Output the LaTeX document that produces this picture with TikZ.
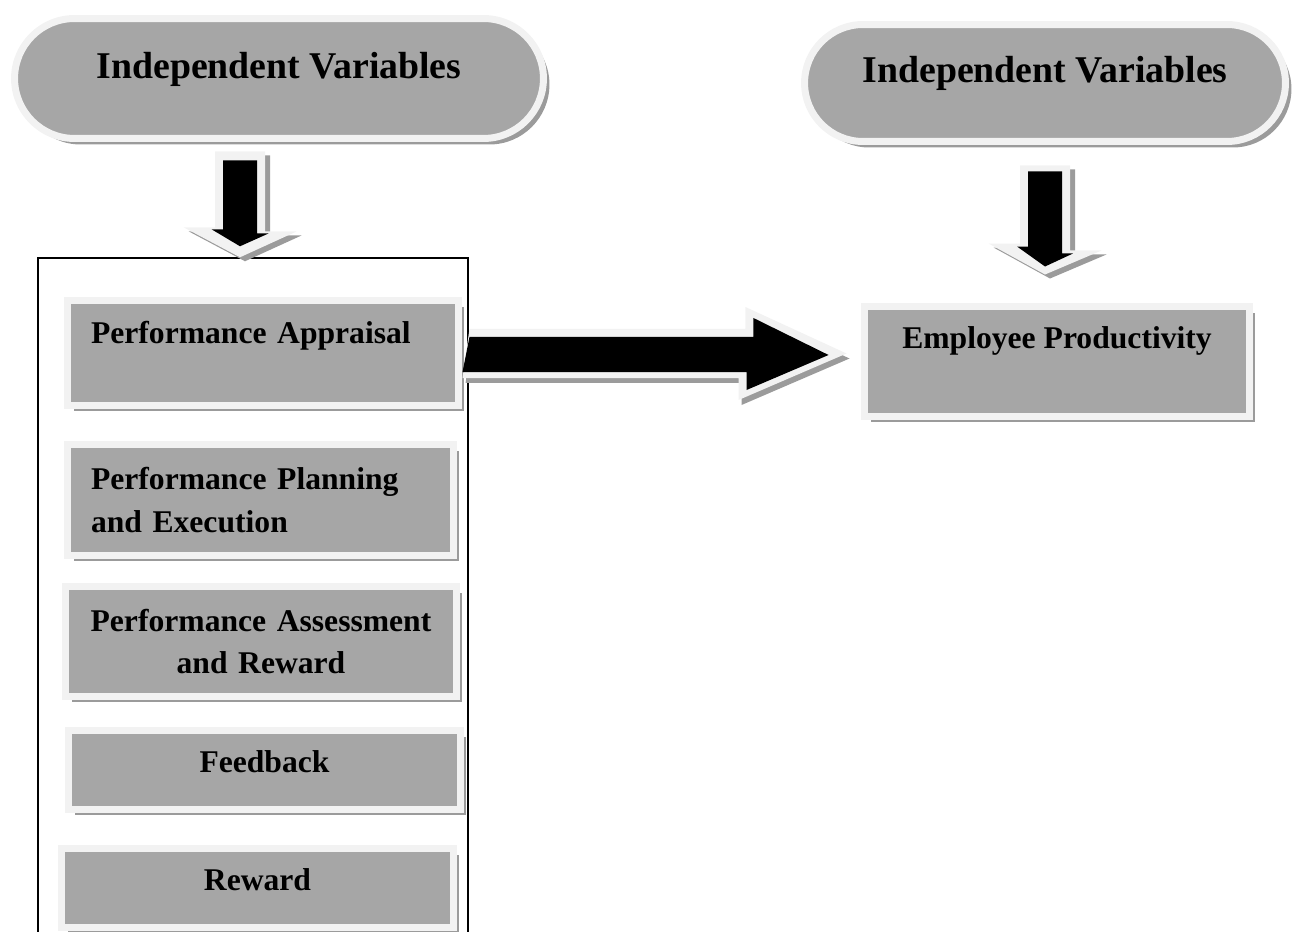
\documentclass[tikz,border=0pt]{standalone}
\usepackage{fontspec}
\setmainfont{Liberation Serif}
\usetikzlibrary{calc,shapes.misc,shadows}
\definecolor{boxgray}{HTML}{A6A6A6}
\definecolor{rimgray}{HTML}{F2F2F2}
\definecolor{shadegray}{HTML}{9B9B9B}
\tikzset{
  varbox/.style={draw=rimgray,line width=0.14cm,fill=boxgray,inner sep=0pt,
    font=\fontsize{18}{24}\selectfont\bfseries,
    drop shadow={shadow xshift=0.12cm,shadow yshift=-0.12cm,fill=shadegray,opacity=1}},
  pill/.style={varbox,rounded rectangle,font=\fontsize{21.5}{26}\selectfont\bfseries,
    text height=15pt,text depth=15pt},
  oneline/.style={text height=13pt,text depth=#1},
  oneline/.default=10pt,
  framebox/.style={draw=black,line width=0.9pt,inner sep=0pt},
  rimarrow/.style={fill=rimgray},
  inkarrow/.style={fill=black},
  shadearrow/.style={fill=shadegray},
}
\begin{document}
\begin{tikzpicture}[x=0.02cm,y=-0.02cm]
  \useasboundingbox (0,0) rectangle (1294,932);
  % headers
  \node[pill,minimum width=10.58cm,minimum height=2.40cm] (lpill) at (279,78.5) {Independent Variables};
  \node[pill,minimum width=9.62cm,minimum height=2.34cm] (rpill) at (1045,83) {Independent Variables};
  % frame round the dimensions
  \node[framebox,minimum width=8.60cm,minimum height=13.74cm] (frame) at (253,601.5) {};
  % dimensions
  \node[varbox,oneline=24pt,align=left,text width=6.88cm,minimum width=7.82cm,minimum height=2.10cm]
    (appr) at (263,353) {Performance Appraisal};
  \node[varbox,align=left,text width=6.78cm,minimum width=7.72cm,minimum height=2.22cm]
    (plan) at (260.5,500) {Performance Planning\\and Execution};
  \node[varbox,align=center,text width=6.88cm,minimum width=7.82cm,minimum height=2.20cm]
    (assess) at (261,641.5) {Performance Assessment\\and Reward};
  \node[varbox,oneline,minimum width=7.84cm,minimum height=1.58cm] (feed) at (264.5,770) {Feedback};
  \node[varbox,oneline,minimum width=7.84cm,minimum height=1.58cm] (reward) at (257.5,888) {Reward};
  % outcome
  \node[varbox,oneline=28pt,minimum width=7.70cm,minimum height=2.20cm] (prod) at (1057,361.5) {Employee Productivity};
  % down arrow, left
  \coordinate (lt) at ($(lpill.south)+(-39,9.5)$);
  \coordinate (lb) at (lt |- frame.north);
  \fill[shadearrow,transform canvas={xshift=0.1cm,yshift=-0.08cm}] (lt) ++(-25,0) -- ++(50,0) -- ++(0,80)
    -- ++(31.5,0) -- (lb) -- ++(-56.5,-30) -- ++(31.5,0) -- cycle;
  \fill[rimarrow] (lt) ++(-25,0) -- ++(50,0) -- ++(0,80) -- ++(31.5,0) -- (lb) -- ++(-56.5,-30) -- ++(31.5,0) -- cycle;
  \fill[inkarrow] ($(lt)+(0,9)$) ++(-17,0) -- ++(34,0) -- ++(0,73) -- ++(11.5,0) -- ($(lb)+(0,-11)$)
    -- ++(-28.5,-17) -- ++(11.5,0) -- cycle;
  % down arrow, right
  \coordinate (rt) at ($(rpill.south)+(0,20.5)$);
  \coordinate (rb) at ($(rt |- prod.north)+(0,-28.5)$);
  \fill[shadearrow,transform canvas={xshift=0.1cm,yshift=-0.08cm}] (rt) ++(-25,0) -- ++(50,0) -- ++(0,85)
    -- ++(31.5,0) -- (rb) -- ++(-56.5,-31) -- ++(31.5,0) -- cycle;
  \fill[rimarrow] (rt) ++(-25,0) -- ++(50,0) -- ++(0,85) -- ++(31.5,0) -- (rb) -- ++(-56.5,-31) -- ++(31.5,0) -- cycle;
  \fill[inkarrow] ($(rt)+(0,6)$) ++(-17,0) -- ++(34,0) -- ++(0,82) -- ++(11,0) -- ($(rb)+(0,-8)$)
    -- ++(-28,-20) -- ++(11,0) -- cycle;
  % appraisal to productivity
  \coordinate (ra) at ($(appr.east)+(7.5,0.5)$);
  \coordinate (rz) at ($(prod.west)+(-14.5,-8)$);
  \fill[shadearrow,transform canvas={xshift=0.06cm,yshift=-0.1cm}] (ra) ++(0,-24.5) -- ++(276,0) -- ++(0,-22)
    -- (rz) -- ++(-108,46.5) -- ++(0,-22) -- ++(-276,0) -- cycle;
  \fill[rimarrow] (ra) ++(0,-24.5) -- ++(276,0) -- ++(0,-22) -- (rz) -- ++(-108,46.5) -- ++(0,-22) -- ++(-276,0) -- cycle;
  \fill[inkarrow] ($(ra)+(0,1)$) ++(0,-17.5) -- ++(284,0) -- ++(0,-19) -- ($(rz)+(-18,1.5)$)
    -- ++(-82,35) -- ++(0,-18) -- ++(-284,0) -- cycle;
\end{tikzpicture}
\end{document}
